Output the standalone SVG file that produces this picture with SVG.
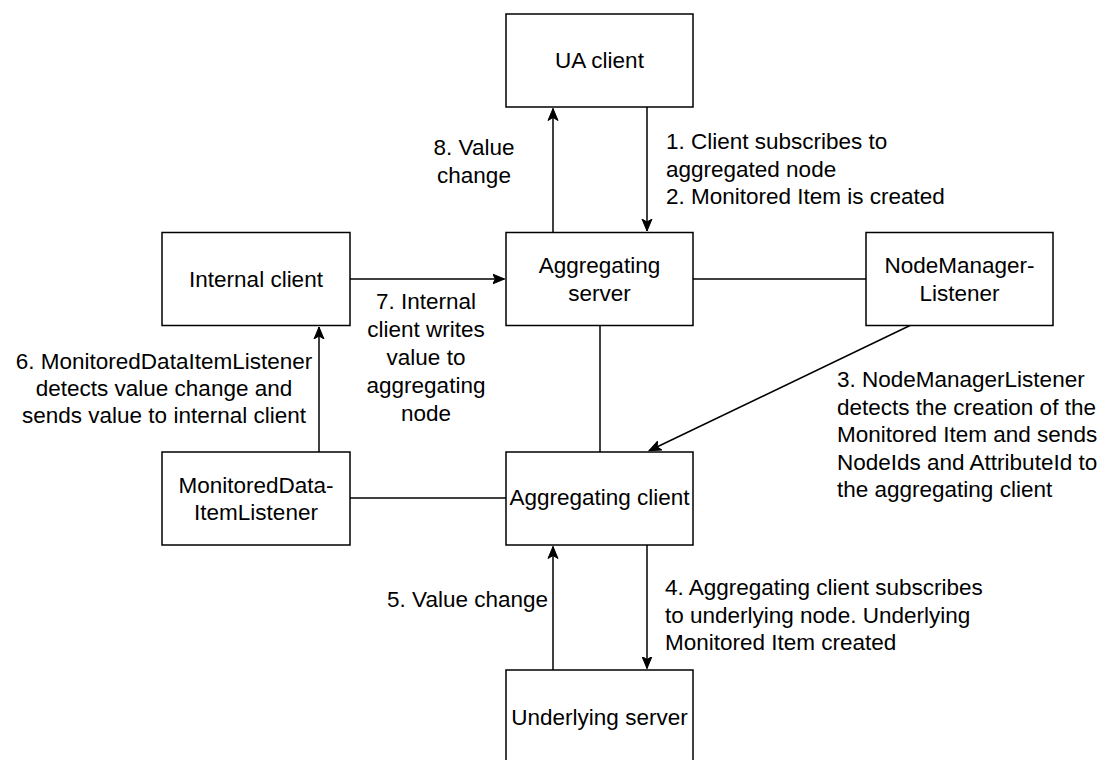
<svg xmlns="http://www.w3.org/2000/svg" width="1104" height="760" viewBox="0 0 1104 760">
<style>
.box{fill:#fff;stroke:#000;stroke-width:1.5}
.t{font-family:"Liberation Sans",Arial,Helvetica,sans-serif;font-size:22.5px;fill:#000}
.c{text-anchor:middle}
.e{text-anchor:end}
.ln{fill:none;stroke:#000;stroke-width:1.5}
</style>
<defs>
<marker id="arr" markerUnits="userSpaceOnUse" markerWidth="14" markerHeight="12" refX="12" refY="6" orient="auto">
<path d="M0,1 L12,6 L0,11 L3,6 Z" fill="#000" stroke="#000" stroke-width="1"/>
</marker>
</defs>
<rect width="1104" height="760" fill="#fff"/>
<g id="connectors">
<path class="ln" d="M647,107 L647,231" marker-end="url(#arr)"/>
<path class="ln" d="M553,232.5 L553,108.5" marker-end="url(#arr)"/>
<path class="ln" d="M350,279 L504.5,279" marker-end="url(#arr)"/>
<path class="ln" d="M693,279 L866,279"/>
<path class="ln" d="M600,325.5 L600,452"/>
<path class="ln" d="M910,325.5 L649,450.8" marker-end="url(#arr)"/>
<path class="ln" d="M319,452 L319,327" marker-end="url(#arr)"/>
<path class="ln" d="M350,498 L506,498"/>
<path class="ln" d="M647,545 L647,668.5" marker-end="url(#arr)"/>
<path class="ln" d="M553,670 L553,546.5" marker-end="url(#arr)"/>
</g>
<g id="ua-client">
<rect class="box" x="506" y="14" width="187" height="93"/>
<text class="t c" x="599.5" y="68">UA client</text>
</g>
<g id="aggregating-server">
<rect class="box" x="506" y="232.5" width="187" height="93"/>
<text class="t c" x="599.5" y="273">Aggregating</text>
<text class="t c" x="599.5" y="300.5">server</text>
</g>
<g id="internal-client">
<rect class="box" x="162" y="232.5" width="188" height="93"/>
<text class="t c" x="256" y="287">Internal client</text>
</g>
<g id="nodemanager-listener">
<rect class="box" x="866" y="232.5" width="187" height="93"/>
<text class="t c" x="959.5" y="273">NodeManager-</text>
<text class="t c" x="959.5" y="300.5">Listener</text>
</g>
<g id="monitored-data-item-listener">
<rect class="box" x="162" y="452" width="188" height="93"/>
<text class="t c" x="256" y="492.5">MonitoredData-</text>
<text class="t c" x="256" y="520">ItemListener</text>
</g>
<g id="aggregating-client">
<rect class="box" x="506" y="452" width="187" height="93"/>
<text class="t c" x="599.5" y="505">Aggregating client</text>
</g>
<g id="underlying-server">
<rect class="box" x="506" y="670" width="187" height="93"/>
<text class="t c" x="599.5" y="725">Underlying server</text>
</g>
<g id="labels">
<text class="t c" x="474" y="155">8. Value</text>
<text class="t c" x="474" y="182.5">change</text>
<text class="t" x="666" y="149">1. Client subscribes to</text>
<text class="t" x="666" y="176.5">aggregated node</text>
<text class="t" x="666" y="204">2. Monitored Item is created</text>
<text class="t c" x="426" y="308.5">7. Internal</text>
<text class="t c" x="426" y="336.5">client writes</text>
<text class="t c" x="426" y="364.5">value to</text>
<text class="t c" x="426" y="392.5">aggregating</text>
<text class="t c" x="426" y="420.5">node</text>
<text class="t c" x="164" y="369">6. MonitoredDataItemListener</text>
<text class="t c" x="164" y="396">detects value change and</text>
<text class="t c" x="164" y="423">sends value to internal client</text>
<text class="t" x="837" y="387">3. NodeManagerListener</text>
<text class="t" x="837" y="414.5">detects the creation of the</text>
<text class="t" x="837" y="442">Monitored Item and sends</text>
<text class="t" x="837" y="469.5">NodeIds and AttributeId to</text>
<text class="t" x="837" y="497">the aggregating client</text>
<text class="t" x="665" y="595">4. Aggregating client subscribes</text>
<text class="t" x="665" y="622.5">to underlying node. Underlying</text>
<text class="t" x="665" y="650">Monitored Item created</text>
<text class="t e" x="548" y="607">5. Value change</text>
</g>
</svg>
